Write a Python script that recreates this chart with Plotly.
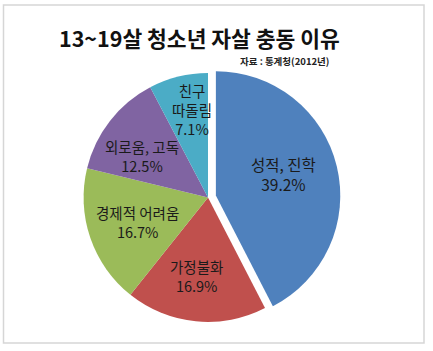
import math
import plotly.graph_objects as go

# ---- data ----
labels = ["성적, 진학", "가정불화", "경제적 어려움", "외로움, 고독", "친구 따돌림"]
label_text = ["성적, 진학<br>39.2%", "가정불화<br>16.9%", "경제적 어려움<br>16.7%",
              "외로움, 고독<br>12.5%", "친구<br>따돌림<br>7.1%"]
values = [39.2, 16.9, 16.7, 12.5, 7.1]
title_text = "13~19살 청소년 자살 충동 이유"
source_text = "자료 : 통계청(2012년)"

# ---- style ----
colors = ["#4F81BD", "#C0504D", "#9BBB59", "#8064A2", "#4BACC6"]
pulls = [0.065, 0, 0, 0, 0]
label_r = [0.56, 0.65, 0.60, 0.67, 0.70]
label_dx = [0, -4, 0, 0, 5]
label_dy = [-5, -2, 0, 10, -3]
label_size = [15.5, 14.5, 14.5, 14.5, 14.5]

W, H = 433, 351
cx_px, cy_px = 208, 197.5
half = 132.5
dom_x = [(cx_px - half) / W, (cx_px + half) / W]
dom_y = [(H - cy_px - half) / H, (H - cy_px + half) / H]
R = half / (1 + max(pulls))

fig = go.Figure(go.Pie(
    labels=labels, values=values, sort=False, direction="clockwise", rotation=0,
    marker=dict(colors=colors, line=dict(width=0)),
    pull=pulls, textinfo="none", hoverinfo="label+value",
    domain=dict(x=dom_x, y=dom_y), showlegend=False,
))

# label annotations placed from the slice geometry
total = sum(values)
cum = 0.0
annotations = []
for i, v in enumerate(values):
    mid = (cum + v / 2) / total * 2 * math.pi
    cum += v
    ox = pulls[i] * R * math.sin(mid)
    oy = -pulls[i] * R * math.cos(mid)
    px = cx_px + ox + label_r[i] * R * math.sin(mid) + label_dx[i]
    py = cy_px + oy - label_r[i] * R * math.cos(mid) + label_dy[i]
    annotations.append(dict(
        x=px / W, y=1 - py / H, xref="paper", yref="paper", text=label_text[i],
        showarrow=False, xanchor="center", yanchor="middle", align="center",
        font=dict(size=label_size[i], color="#1a1a1a", family="Noto Sans CJK KR"),
    ))

annotations.append(dict(
    x=199.5 / W, y=1 - 38 / H, xref="paper", yref="paper", text="<b>" + title_text + "</b>",
    showarrow=False, xanchor="center", yanchor="middle",
    font=dict(size=21.5, color="#111111", family="Noto Sans CJK KR"),
))
annotations.append(dict(
    x=331 / W, y=1 - 61 / H, xref="paper", yref="paper", text="<b>" + source_text + "</b>",
    showarrow=False, xanchor="right", yanchor="middle",
    font=dict(size=9.5, color="#222222", family="Noto Sans CJK KR"),
))

fig.update_layout(
    width=W, height=H, margin=dict(l=0, r=0, t=0, b=0),
    paper_bgcolor="white", plot_bgcolor="white",
    annotations=annotations,
    shapes=[dict(type="rect", xref="paper", yref="paper",
                 x0=3.5 / W, x1=424 / W, y0=1 - 343 / H, y1=1 - 5 / H,
                 line=dict(color="#d6d6d6", width=1.5), fillcolor="rgba(0,0,0,0)")],
)

fig.write_html("out.html")
